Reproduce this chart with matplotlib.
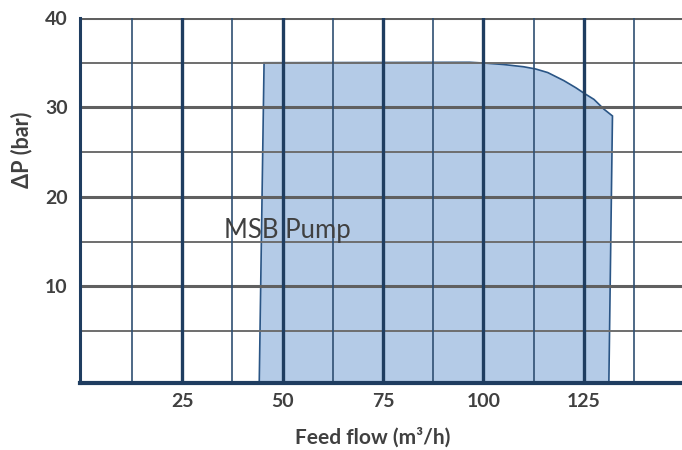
import matplotlib
matplotlib.use("Agg")
import matplotlib.pyplot as plt

plt.rcParams['font.family'] = ['Lato', 'DejaVu Sans']

# Lower bound of the pressure axis; the envelope sits on it
y_floor = -0.8

# Operating envelope of the MSB pump: flow (m3/h) vs differential pressure (bar)
envelope_flow = [44.2, 45.4, 96.6, 100.0, 105.0, 110.0, 113.0, 116.0, 120.0, 123.0,
                 125.0, 127.5, 130.0, 132.1, 131.2]
envelope_dp = [y_floor, 35.0, 35.05, 34.97, 34.8, 34.55, 34.3, 33.9, 33.0, 32.2,
               31.6, 30.9, 29.8, 29.05, y_floor]

x_major = [25, 50, 75, 100, 125]
x_minor = [12.5, 37.5, 62.5, 87.5, 112.5, 137.5]
y_major = [10, 20, 30, 40]
y_minor = [5, 15, 25, 35]

region_label = "MSB Pump"
x_title = "Feed flow (m³/h)"
y_title = "ΔP (bar)"

W, H = 682, 450
fig = plt.figure(figsize=(W / 100, H / 100), dpi=100)
ax = fig.add_axes([80 / W, (H - 383) / H, (682 - 80) / W, (383 - 18) / H])
ax.set_xlim(-0.4, 149.4)
ax.set_ylim(y_floor, 40)

navy = '#1f3d60'
grey = '#606060'

# envelope
ax.fill(envelope_flow, envelope_dp, facecolor='#b4cbe7', edgecolor='#2a5585',
        linewidth=1.2, zorder=1)

# grid
for v in y_minor:
    ax.axhline(v, color='#6e6e6e', linewidth=1.4, zorder=2)
for v in y_major:
    ax.axhline(v, color=grey, linewidth=2.2, zorder=2)
for v in x_minor:
    ax.axvline(v, color='#2f4f72', linewidth=1.2, zorder=2)
for v in x_major:
    ax.axvline(v, color=navy, linewidth=2.4, zorder=2)

for s in ['top', 'right']:
    ax.spines[s].set_visible(False)
ax.spines['left'].set_color(navy)
ax.spines['left'].set_linewidth(2.2)
ax.spines['bottom'].set_color(navy)
ax.spines['bottom'].set_linewidth(3.0)
ax.spines['left'].set_zorder(3)
ax.spines['bottom'].set_zorder(3)

ax.set_xticks(x_major)
ax.set_xticklabels([str(v) for v in x_major])
ax.set_yticks(y_major)
ax.set_yticklabels([str(v) for v in y_major])
ax.tick_params(length=0, labelsize=14, colors='#404040')
ax.tick_params(axis='x', pad=7)
ax.tick_params(axis='y', pad=9)
for lbl in ax.get_xticklabels() + ax.get_yticklabels():
    lbl.set_fontweight('bold')

ax.set_xlabel(x_title, fontsize=15, fontweight='bold', color='#404040')
ax.set_ylabel(y_title, fontsize=15.5, fontweight='bold', color='#404040')
ax.xaxis.label.set_va('center')
ax.yaxis.label.set_va('center')
ax.xaxis.set_label_coords(0.487, -0.148)
ax.yaxis.set_label_coords(-0.097, 0.638)

ax.text(51.2, 16.3, region_label, fontsize=18.5, color='#404040',
        ha='center', va='center', zorder=4)

fig.savefig('out.png', dpi=100)
